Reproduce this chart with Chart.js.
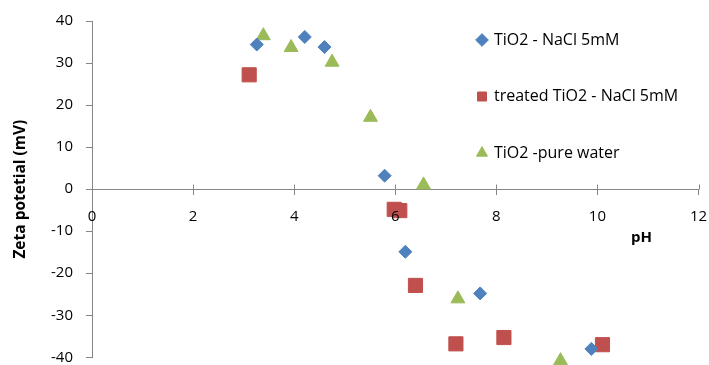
<!DOCTYPE html>
<html>
<head>
<meta charset="utf-8">
<script src="https://cdn.jsdelivr.net/npm/chart.js@4.4.0/dist/chart.umd.min.js"></script>
<style>
  html, body { margin: 0; padding: 0; background: #fff; overflow: hidden; }
  canvas { display: block; }
</style>
</head>
<body>
<canvas id="zetaChart" width="709" height="365"></canvas>
<script>
// series: pH vs zeta potential (mV)
let seriesNames = ['TiO2 - NaCl 5mM', 'treated TiO2 - NaCl 5mM', 'TiO2 -pure water'];

let phNaCl = [3.26, 4.21, 4.60, 5.79, 6.20, 7.68, 9.88];
let zetaNaCl = [34.4, 36.2, 33.8, 3.2, -14.9, -24.8, -38.0];

let phTreated = [3.11, 5.98, 6.09, 6.40, 7.20, 8.15, 10.10];
let zetaTreated = [27.2, -4.8, -5.1, -22.9, -36.8, -35.3, -37.0];

let phWater = [3.39, 3.94, 4.75, 5.51, 6.56, 7.24, 9.27];
let zetaWater = [36.5, 33.7, 30.2, 17.1, 1.0, -26.1, -40.8];

let xTicks = [0, 2, 4, 6, 8, 10, 12];
let yTicks = [-40, -30, -20, -10, 0, 10, 20, 30, 40];

function toPoints(xs, ys)
{
    return xs.map((v, i) => ({ x: v, y: ys[i] }));
}

Chart.defaults.font.family = '"Open Sans", sans-serif';
Chart.defaults.font.size = 15;
Chart.defaults.color = '#000';

let axisGrey = '#868686';

// crossing tick marks on the x axis, the "pH" label, and the legend placement
const axisExtras = {
    id: 'axisExtras',
    afterLayout(chart)
    {
        const lg = chart.legend;
        const pad = lg.options.labels.padding;
        lg.left = 482 - pad - 4;
        lg.top = 40 - 8 - pad;
    },
    afterDraw(chart)
    {
        const ctx = chart.ctx;
        const x = chart.scales.x;
        const y = chart.scales.y;
        const y0 = Math.round(y.getPixelForValue(0)) + 0.5;
        ctx.save();
        ctx.strokeStyle = axisGrey;
        ctx.lineWidth = 1;
        ctx.beginPath();
        x.ticks.forEach(t => {
            if (t.value === 0) return;
            const px = Math.round(x.getPixelForValue(t.value)) + 0.5;
            ctx.moveTo(px, y0 - 5);
            ctx.lineTo(px, y0);
        });
        ctx.stroke();
        ctx.font = 'bold 15px "Open Sans"';
        ctx.fillStyle = '#000';
        ctx.textAlign = 'center';
        ctx.textBaseline = 'middle';
        ctx.fillText('pH', x.getPixelForValue(10.87), y.getPixelForValue(-11.6));
        ctx.restore();
    }
};

let ctx1 = document.getElementById('zetaChart').getContext('2d');
let myChart = new Chart(ctx1, {
    type: 'scatter',
    data: {
        datasets: [{
            label: seriesNames[0],
            data: toPoints(phNaCl, zetaNaCl),
            pointStyle: 'rectRot',
            pointRadius: 6.5,
            backgroundColor: '#4F81BD',
            borderColor: '#4F81BD',
            borderWidth: 1,
            clip: false
        },
        {
            label: seriesNames[1],
            data: toPoints(phTreated, zetaTreated),
            pointStyle: 'rect',
            pointRadius: 10,
            backgroundColor: '#C0504D',
            borderColor: '#C0504D',
            borderWidth: 1,
            clip: false
        },
        {
            label: seriesNames[2],
            data: toPoints(phWater, zetaWater),
            pointStyle: 'triangle',
            pointRadius: 8,
            backgroundColor: '#9BBB59',
            borderColor: '#9BBB59',
            borderWidth: 1,
            clip: false
        }]
    },
    options: {
        responsive: false,
        animation: false,
        layout: {
            autoPadding: false,
            padding: { top: 21, right: 10.5, bottom: 7.7, left: 0 }
        },
        plugins: {
            tooltip: { enabled: false },
            legend: {
                position: 'chartArea',
                align: 'start',
                labels: {
                    usePointStyle: true,
                    boxWidth: 8,
                    boxHeight: 9,
                    padding: 40.5,
                    color: '#000',
                    font: { size: 16 }
                }
            }
        },
        scales: {
            x: {
                type: 'linear',
                position: { y: 0 },
                min: 0,
                max: 12,
                afterBuildTicks: s => { s.ticks = xTicks.map(v => ({ value: v })); },
                afterFit: s => {
                    s.height = 0;
                    s.paddingLeft = 0;
                    s.paddingRight = 0;
                    s.paddingTop = 0;
                    s.paddingBottom = 0;
                },
                grid: {
                    drawOnChartArea: false,
                    tickLength: 5,
                    color: axisGrey
                },
                border: { color: axisGrey, width: 1 },
                ticks: {
                    padding: 15,
                    z: 1,
                    font: { size: 15, lineHeight: 1 }
                }
            },
            y: {
                type: 'linear',
                min: -40,
                max: 40,
                afterBuildTicks: s => { s.ticks = yTicks.map(v => ({ value: v })); },
                afterFit: s => {
                    s.width = 92;
                    s.paddingTop = 0;
                    s.paddingBottom = 0;
                },
                grid: {
                    drawOnChartArea: false,
                    tickLength: 6,
                    color: axisGrey
                },
                border: { color: axisGrey, width: 1 },
                ticks: {
                    padding: 13,
                    font: { size: 15, lineHeight: 1 }
                },
                title: {
                    display: true,
                    text: 'Zeta potetial (mV)',
                    color: '#000',
                    font: { size: 15.5, weight: 'bold' },
                    padding: { top: 11.7, bottom: 0 }
                }
            }
        }
    },
    plugins: [axisExtras]
});
</script>
</body>
</html>
